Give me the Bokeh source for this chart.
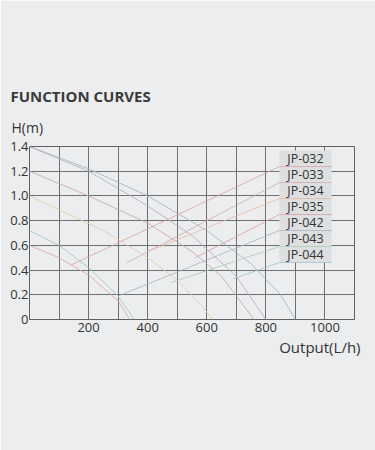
from bokeh.plotting import figure
from bokeh.models import FixedTicker, Range1d, Title
from bokeh.core.properties import value
from bokeh.embed import file_html
from bokeh.resources import INLINE

# ---- data ----
x_ticks = [200, 400, 600, 800, 1000]
y_ticks = [0, 0.2, 0.4, 0.6, 0.8, 1.0, 1.2, 1.4]
y_tick_labels = ["0", "0.2", "0.4", "0.6", "0.8", "1.0", "1.2", "1.4"]

# descending pump curves (flow L/h, head m)
curve_a_q = [0, 200, 400, 600, 750, 850, 900]
curve_a_h = [1.4, 1.22, 1.0, 0.72, 0.45, 0.2, 0]
curve_b_q = [0, 200, 400, 550, 700, 800]
curve_b_h = [1.4, 1.2, 0.92, 0.68, 0.35, 0]
curve_c_q = [0, 200, 400, 550, 650, 760]
curve_c_h = [1.2, 1.0, 0.78, 0.55, 0.35, 0]
curve_d_q = [0, 250, 400, 500, 580, 620]
curve_d_h = [1.0, 0.72, 0.5, 0.32, 0.12, 0]
curve_e_q = [0, 100, 200, 300, 355]
curve_e_h = [0.72, 0.6, 0.42, 0.19, 0]
curve_f_q = [0, 100, 200, 300, 340]
curve_f_h = [0.6, 0.5, 0.36, 0.15, 0]

models = ["JP-032", "JP-033", "JP-034", "JP-035", "JP-042", "JP-043", "JP-044"]
leader_start_q = [140, 330, 400, 560, 300, 480, 690]
leader_start_h = [0.44, 0.46, 0.55, 0.5, 0.19, 0.3, 0.33]

curve_colors = ["#a7b1c8", "#b3afbd", "#c9a8b1", "#e8cda8", "#a6c5c0", "#dba8b2"]
model_colors = ["#d7a1ab", "#cfa7b0", "#e2bba4", "#d89eaa", "#adb2bb", "#a6d0b1", "#9cc3d1"]

BG = "#ecedee"
GRID = "#606060"
TXT = "#333333"
FONT = "Open Sans"

W, H = 375, 450
p = figure(width=W, height=H, output_backend="svg", toolbar_location=None,
           x_range=Range1d(0, 1100), y_range=Range1d(0, 1.4),
           min_border_left=29, min_border_right=21,
           min_border_top=146, min_border_bottom=131,
           title="FUNCTION CURVES")
p.background_fill_color = BG
p.border_fill_color = BG
p.outline_line_color = GRID
p.outline_line_width = 1

p.title.align = "left"
p.title.offset = -19
p.title.standoff = 0
p.title.text_font = FONT
p.title.text_font_size = "15px"
p.title.text_font_style = "bold"
p.title.text_color = "#3a3a3a"

p.add_layout(Title(text="H(m)", align="left", offset=-18, standoff=20,
                   text_font=FONT, text_font_size="14px", text_font_style="normal",
                   text_color=TXT), "above")
p.add_layout(Title(text="Output(L/h)", align="right", offset=-6, standoff=0,
                   text_font=FONT, text_font_size="15px", text_font_style="normal",
                   text_color=TXT), "below")

p.xgrid.ticker = FixedTicker(ticks=list(range(0, 1101, 100)))
p.ygrid.ticker = FixedTicker(ticks=y_ticks)
for g in (p.xgrid, p.ygrid):
    g.grid_line_color = GRID
    g.grid_line_width = 1
    g.grid_line_alpha = 0.9

p.xaxis.ticker = FixedTicker(ticks=x_ticks)
p.yaxis.ticker = FixedTicker(ticks=y_ticks)
p.yaxis.major_label_overrides = {t: l for t, l in zip(y_ticks, y_tick_labels)}
for ax in (p.xaxis, p.yaxis):
    ax.axis_line_color = None
    ax.major_tick_line_color = None
    ax.minor_tick_line_color = None
    ax.major_label_text_font = FONT
    ax.major_label_text_font_size = "13px"
    ax.major_label_text_color = TXT
p.xaxis.major_label_standoff = -3
p.yaxis.major_label_standoff = -5

curves = [(curve_a_q, curve_a_h), (curve_b_q, curve_b_h), (curve_c_q, curve_c_h),
          (curve_d_q, curve_d_h), (curve_e_q, curve_e_h), (curve_f_q, curve_f_h)]
for (q, h), c in zip(curves, curve_colors):
    p.line(q, h, line_color=c, line_width=1, line_alpha=0.85)

# legend column
box_left, box_right = 846, 1022
box_top0, box_step = 1.367, 0.1294
tops = [box_top0 - i * box_step for i in range(len(models))]
bottoms = [t - box_step for t in tops]
p.quad(left=[box_left] * len(models), right=[box_right] * len(models),
       top=tops, bottom=bottoms, fill_color="#dedfe0", line_color=None)

for i, m in enumerate(models):
    c = model_colors[i]
    p.line([leader_start_q[i], box_left, box_right],
           [leader_start_h[i], bottoms[i], bottoms[i]], line_color=c, line_width=1,
           line_alpha=0.8)
    p.text(x=[(box_left + box_right) / 2], y=[(tops[i] + bottoms[i]) / 2], text=[m],
           text_font=value(FONT), text_font_size="12.5px", text_color=TXT,
           text_align="center", text_baseline="middle")

open("out.html", "w").write(file_html(p, INLINE))
